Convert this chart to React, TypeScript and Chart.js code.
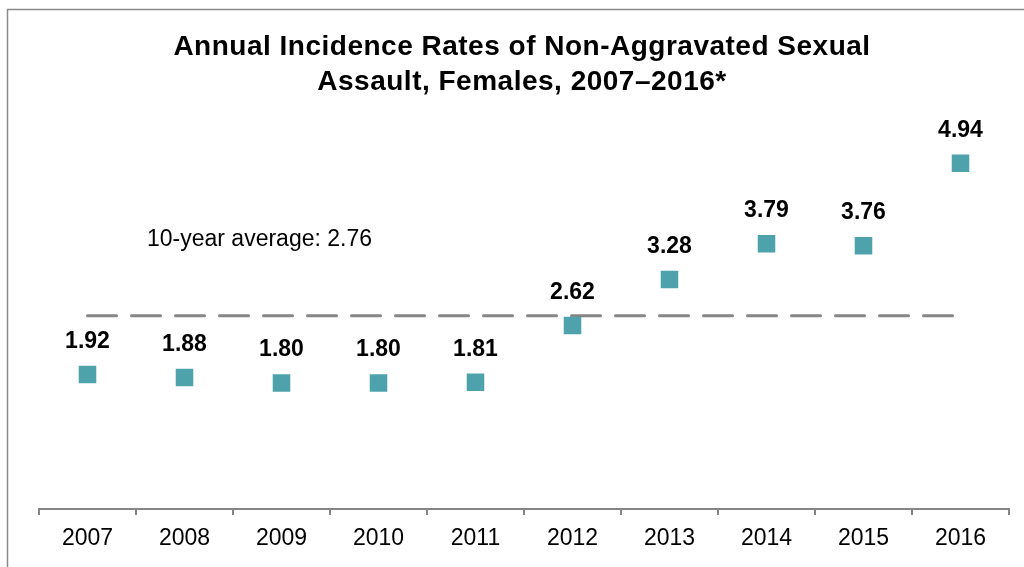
import React, { useEffect, useRef } from "react";
import { Chart, registerables } from "chart.js";

Chart.register(...registerables);

const years = ["2007", "2008", "2009", "2010", "2011", "2012", "2013", "2014", "2015", "2016"];
const rates = [1.92, 1.88, 1.8, 1.8, 1.81, 2.62, 3.28, 3.79, 3.76, 4.94];
const averageRate = 2.76;
const averageLabel = "10-year average: 2.76";
const titleLines = ["Annual Incidence Rates of Non-Aggravated Sexual", "Assault, Females, 2007\u20132016*"];

const FONT = '"Liberation Sans", Arial, sans-serif';
const TEAL = "#4DA2AB";
const GRAY = "#858585";

const framePlugin = {
  id: "frame",
  beforeDraw(chart: any) {
    const ctx = chart.ctx;
    ctx.save();
    ctx.fillStyle = "#ffffff";
    ctx.fillRect(0, 0, chart.width, chart.height);
    ctx.strokeStyle = "#8a8a8a";
    ctx.lineWidth = 1.5;
    ctx.beginPath();
    ctx.moveTo(7.5, chart.height);
    ctx.lineTo(7.5, 9.5);
    ctx.lineTo(chart.width, 9.5);
    ctx.stroke();
    ctx.restore();
  },
};

const textPlugin = {
  id: "texts",
  afterDraw(chart: any) {
    const ctx = chart.ctx;
    const area = chart.chartArea;
    ctx.save();
    // title
    ctx.fillStyle = "#000";
    ctx.font = `bold 28px ${FONT}`;
    ctx.textAlign = "center";
    ctx.textBaseline = "middle";
    try {
      (ctx as any).letterSpacing = "0.5px";
    } catch (e) {}
    const cx = (area.left + area.right) / 2 - 2;
    titleLines.forEach((line, i) => {
      ctx.fillText(line, cx, 47 + i * 35);
    });
    try {
      (ctx as any).letterSpacing = "0px";
    } catch (e) {}
    // average label
    ctx.font = `23px ${FONT}`;
    ctx.textAlign = "left";
    ctx.fillText(averageLabel, area.left + 108, 240);
    // data labels
    const meta = chart.getDatasetMeta(0);
    ctx.font = `bold 23px ${FONT}`;
    ctx.textAlign = "center";
    meta.data.forEach((pt: any, i: number) => {
      ctx.fillText(rates[i].toFixed(2), pt.x, pt.y - 33);
    });
    ctx.restore();
  },
};

export default function App() {
  const ref = useRef<HTMLCanvasElement | null>(null);

  useEffect(() => {
    document.body.style.margin = "0";
    const canvas = ref.current;
    if (!canvas) return;
    const chart = new Chart(canvas, {
      type: "line",
      data: {
        labels: years,
        datasets: [
          {
            label: "Rate",
            data: rates,
            showLine: false,
            pointStyle: "rect",
            pointRadius: 12.4,
            pointHoverRadius: 12.4,
            pointBackgroundColor: TEAL,
            pointBorderColor: TEAL,
            pointBorderWidth: 0,
            backgroundColor: TEAL,
            borderColor: TEAL,
            order: 0,
          },
          {
            label: "Average",
            data: [
              { x: years[0], y: averageRate },
              { x: years[years.length - 1], y: averageRate },
            ],
            borderColor: GRAY,
            borderWidth: 3,
            borderDash: [29, 15],
            borderCapStyle: "round",
            pointRadius: 0,
            fill: false,
            order: 1,
          } as any,
        ],
      },
      options: {
        responsive: false,
        animation: false,
        devicePixelRatio: 1,
        layout: { padding: { left: 39, right: 15, top: 89, bottom: 0 } },
        plugins: {
          legend: { display: false },
          tooltip: { enabled: false },
          title: { display: false },
        },
        scales: {
          x: {
            type: "category",
            offset: true,
            grid: {
              offset: true,
              drawOnChartArea: false,
              drawTicks: true,
              tickLength: 6,
              color: GRAY,
              lineWidth: 2,
            },
            border: { display: true, color: GRAY, width: 2 },
            ticks: {
              color: "#000",
              font: { family: FONT, size: 23 },
              padding: 10,
              maxRotation: 0,
              autoSkip: false,
            },
            afterFit(scale: any) {
              scale.height = 58;
            },
          },
          y: {
            display: false,
            min: 0,
            max: 6,
          },
        },
      },
      plugins: [framePlugin, textPlugin],
    });
    return () => chart.destroy();
  }, []);

  return (
    <div style={{ width: 1024, height: 567 }}>
      <canvas ref={ref} width={1024} height={567} style={{ display: "block" }} />
    </div>
  );
}
